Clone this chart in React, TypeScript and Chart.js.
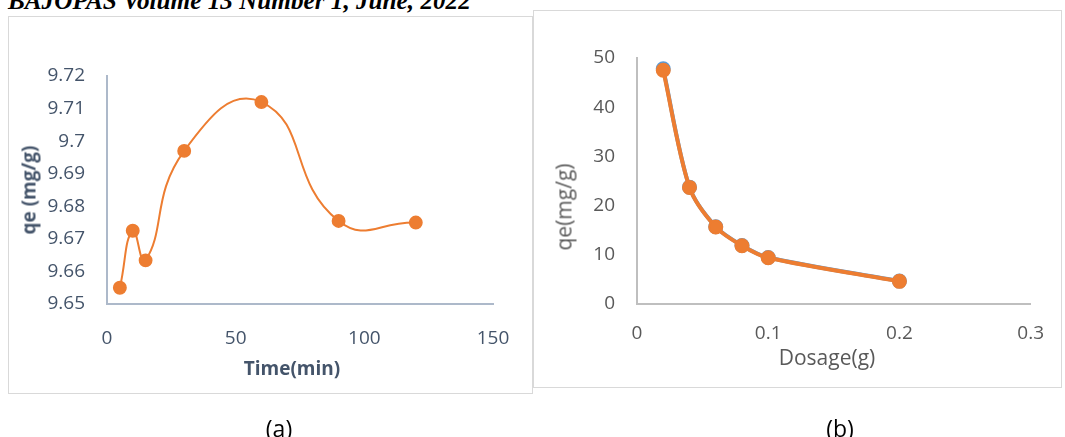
import React, { useEffect, useRef } from "react";
import { Chart, registerables } from "chart.js";

Chart.register(...registerables);

// ---- Panel (a): effect of contact time ----
const timeMin = [5, 10, 15, 30, 60, 90, 120];
const qeTime = [9.655, 9.6725, 9.6634, 9.697, 9.712, 9.6755, 9.675];
const timeTicks = [0, 50, 100, 150];
const qeTimeTicks = [9.65, 9.66, 9.67, 9.68, 9.69, 9.7, 9.71, 9.72];

// ---- Panel (b): effect of adsorbent dosage ----
const dosage = [0.02, 0.04, 0.06, 0.08, 0.1, 0.2];
const qeDosageA = [47.8, 23.75, 15.7, 11.9, 9.45, 4.65];
const qeDosageB = [47.5, 23.7, 15.65, 11.85, 9.4, 4.6];
const dosageTicks = [0, 0.1, 0.2, 0.3];
const qeDosageTicks = [0, 10, 20, 30, 40, 50];

const FONT = "'Open Sans', 'Noto Sans', sans-serif";
const ORANGE = "#ED7D31";
const BLUE = "#5B9BD5";

const fmt = (v: number) => String(Number(Number(v).toFixed(4)));

function fixedTicks(arr: number[]) {
  return (scale: any) => {
    scale.ticks = arr.map((v) => ({ value: v }));
  };
}

function ChartA() {
  const ref = useRef<HTMLCanvasElement>(null);
  useEffect(() => {
    const chart = new Chart(ref.current!, {
      type: "line",
      data: {
        datasets: [
          {
            data: timeMin.map((x, i) => ({ x, y: qeTime[i] })),
            borderColor: ORANGE,
            backgroundColor: ORANGE,
            borderWidth: 2,
            pointRadius: 6.2,
            pointBorderWidth: 1.5,
            pointBackgroundColor: ORANGE,
            pointBorderColor: ORANGE,
            tension: 0.5,
          },
        ],
      },
      options: {
        responsive: false,
        animation: false,
        layout: { padding: { left: 0, right: 40, top: 60, bottom: 0 } },
        plugins: { legend: { display: false }, tooltip: { enabled: false } },
        scales: {
          x: {
            type: "linear",
            min: timeTicks[0],
            max: timeTicks[timeTicks.length - 1],
            afterBuildTicks: fixedTicks(timeTicks),
            afterFit: (s: any) => {
              s.height = 90;
            },
            grid: { display: false, drawTicks: false },
            border: { display: true, color: "#ADB9CA", width: 2 },
            ticks: {
              padding: 23,
              color: "#44546A",
              font: { family: FONT, size: 19 },
              callback: (v: any) => fmt(v),
            },
          },
          y: {
            type: "linear",
            min: qeTimeTicks[0],
            max: qeTimeTicks[qeTimeTicks.length - 1],
            afterBuildTicks: fixedTicks(qeTimeTicks),
            afterFit: (s: any) => {
              s.width = 99;
            },
            grid: { display: false, drawTicks: false },
            border: { display: true, color: "#ADB9CA", width: 2 },
            ticks: {
              padding: 22,
              color: "#44546A",
              font: { family: FONT, size: 19 },
              callback: (v: any) => fmt(v),
            },
          },
        },
      },
    });
    return () => chart.destroy();
  }, []);
  return <canvas ref={ref} width={525} height={378} style={{ width: 525, height: 378, display: "block" }} />;
}

function ChartB() {
  const ref = useRef<HTMLCanvasElement>(null);
  useEffect(() => {
    const chart = new Chart(ref.current!, {
      type: "line",
      data: {
        datasets: [
          {
            data: dosage.map((x, i) => ({ x, y: qeDosageB[i] })),
            borderColor: ORANGE,
            backgroundColor: ORANGE,
            borderWidth: 4,
            pointRadius: 6.5,
            pointBorderWidth: 2,
            pointBackgroundColor: ORANGE,
            pointBorderColor: ORANGE,
            tension: 0.3,
            order: 0,
          },
          {
            data: dosage.map((x, i) => ({ x, y: qeDosageA[i] })),
            borderColor: BLUE,
            backgroundColor: BLUE,
            borderWidth: 4,
            pointRadius: 6.5,
            pointBorderWidth: 2,
            pointBackgroundColor: BLUE,
            pointBorderColor: BLUE,
            tension: 0.3,
            order: 1,
          },
        ],
      },
      options: {
        responsive: false,
        animation: false,
        layout: { padding: { left: 0, right: 24, top: 48, bottom: 0 } },
        plugins: { legend: { display: false }, tooltip: { enabled: false } },
        scales: {
          x: {
            type: "linear",
            min: dosageTicks[0],
            max: dosageTicks[dosageTicks.length - 1],
            afterBuildTicks: fixedTicks(dosageTicks),
            afterFit: (s: any) => {
              s.height = 84;
            },
            grid: { display: false, drawTicks: false },
            border: { display: true, color: "#BFBFBF", width: 2 },
            ticks: {
              padding: 18,
              color: "#595959",
              font: { family: FONT, size: 19 },
              callback: (v: any) => fmt(v),
            },
          },
          y: {
            type: "linear",
            min: qeDosageTicks[0],
            max: qeDosageTicks[qeDosageTicks.length - 1],
            afterBuildTicks: fixedTicks(qeDosageTicks),
            afterFit: (s: any) => {
              s.width = 104;
            },
            grid: { display: false, drawTicks: false },
            border: { display: true, color: "#BFBFBF", width: 2 },
            ticks: {
              padding: 22,
              color: "#595959",
              font: { family: FONT, size: 19 },
              callback: (v: any) => fmt(v),
            },
          },
        },
      },
    });
    return () => chart.destroy();
  }, []);
  return <canvas ref={ref} width={529} height={378} style={{ width: 529, height: 378, display: "block" }} />;
}

const abs = (left: number, top: number, extra: React.CSSProperties = {}): React.CSSProperties => ({
  position: "absolute",
  left,
  top,
  ...extra,
});

function CenterText(props: {
  x: number;
  y: number;
  text: string;
  size: number;
  color: string;
  bold?: boolean;
  rotate?: boolean;
}) {
  return (
    <div
      style={{
        position: "absolute",
        left: props.x,
        top: props.y,
        transform: `translate(-50%, -50%)${props.rotate ? " rotate(-90deg)" : ""}`,
        whiteSpace: "nowrap",
        fontFamily: FONT,
        fontSize: props.size,
        fontWeight: props.bold ? 700 : 400,
        color: props.color,
        lineHeight: 1,
      }}
    >
      {props.text}
    </div>
  );
}

export default function App() {
  return (
    <div
      style={{
        position: "absolute",
        left: 0,
        top: 0,
        width: 1065,
        height: 437,
        overflow: "hidden",
        background: "#fff",
      }}
    >
      <div
        style={abs(8, -12.5, {
          fontFamily: "'Liberation Serif', 'Times New Roman', serif",
          fontWeight: 700,
          fontStyle: "italic",
          fontSize: 25.2,
          lineHeight: "25px",
          whiteSpace: "nowrap",
          color: "#000",
        })}
      >
        BAJOPAS Volume 13 Number 1, June, 2022
      </div>

      {/* panel (b) box */}
      <div style={abs(533, 10, { width: 529, height: 378, boxSizing: "border-box", border: "1px solid #D9D9D9" })} />
      <div style={abs(533, 10)}>
        <ChartB />
      </div>

      {/* panel (a) box */}
      <div style={abs(8, 16, { width: 525, height: 378, boxSizing: "border-box", border: "1px solid #D9D9D9", background: "#fff" })} />
      <div style={abs(8, 16)}>
        <ChartA />
      </div>

      <CenterText x={29} y={190} text="qe (mg/g)" size={19} color="#44546A" bold rotate />
      <CenterText x={292} y={368} text="Time(min)" size={19} color="#44546A" bold />
      <CenterText x={564} y={207} text="qe(mg/g)" size={21} color="#595959" rotate />
      <CenterText x={827} y={357} text="Dosage(g)" size={21} color="#595959" />

      <CenterText x={279} y={428} text="(a)" size={23} color="#000" />
      <CenterText x={840} y={428} text="(b)" size={23} color="#000" />
    </div>
  );
}
